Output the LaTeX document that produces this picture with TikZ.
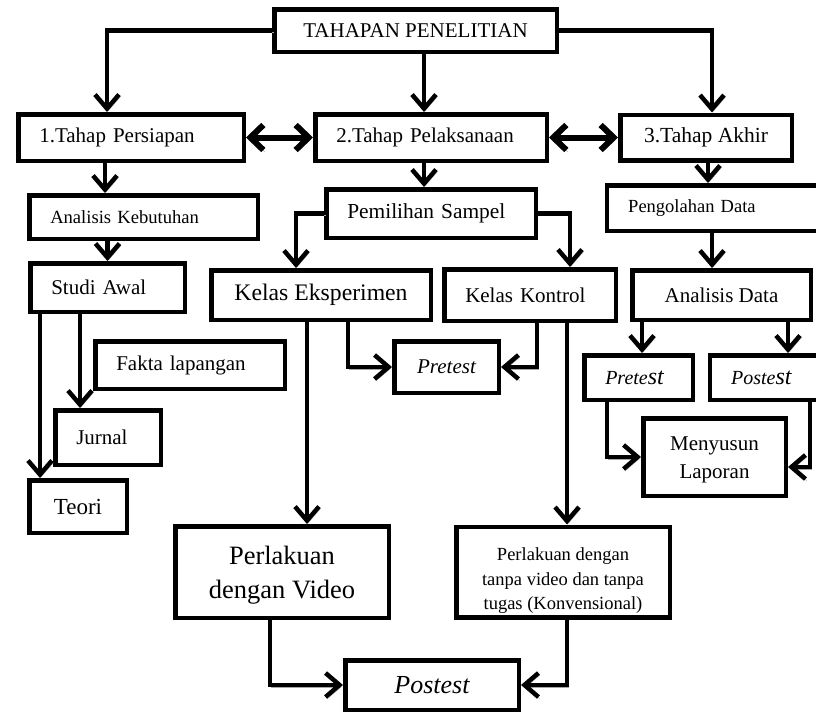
\documentclass[tikz,border=0pt]{standalone}
\usepackage{fontspec}
\setmainfont{Liberation Serif}
\usetikzlibrary{arrows.meta}
\newcommand{\uk}[2]{\fontsize{#1}{#2}\selectfont}

\tikzset{
  kotak/.style={draw, line width=4.5pt, inner sep=0pt, align=center},
  kiri/.style={align=left, inner xsep=21pt},
  bayang/.style={preaction={draw=black!35, transform canvas={shift={(1.5pt,-2pt)}}}},
  panah/.style={line width=4.5pt, -{Straight Barb[length=14pt,width=24pt]}, bayang},
  duapanah/.style={line width=6pt, {Straight Barb[length=13pt,width=25pt]}-{Straight Barb[length=13pt,width=25pt]}, bayang},
}

\begin{document}
\begin{tikzpicture}[x=1pt, y=-1pt]
  \useasboundingbox (0,0) rectangle (816,715);

  % baris atas
  \node[kotak, minimum width=282.5pt, minimum height=42.5pt, font=\uk{21}{26}] (tahapan) at (415.5,30.5) {TAHAPAN PENELITIAN};
  \node[kotak, kiri, text width=183.5pt, minimum height=46.5pt, font=\uk{21}{26}] (persiapan) at (131,137.5) {1.Tahap Persiapan};
  \node[kotak, kiri, text width=189.5pt, minimum height=46.5pt, font=\uk{21}{26}] (pelaksanaan) at (431,137.5) {2.Tahap Pelaksanaan};
  \node[kotak, minimum width=171.5pt, minimum height=45.5pt, font=\uk{21.5}{26}] (akhir) at (706,137.5) {3.Tahap Akhir};

  % tahap persiapan
  \node[kotak, kiri, text width=186.5pt, minimum height=43.5pt, font=\uk{18.6}{24}] (kebutuhan) at (143.5,217) {Analisis Kebutuhan};
  \node[kotak, kiri, text width=112.5pt, minimum height=48.5pt, font=\uk{21}{26}] (studi) at (107.5,287.5) {Studi Awal};
  \node[kotak, kiri, text width=147.5pt, minimum height=47.5pt, font=\uk{21}{26}] (fakta) at (190,365) {Fakta lapangan};
  \node[kotak, kiri, text width=63.5pt, minimum height=54.5pt, font=\uk{21}{26}] (jurnal) at (108,437.5) {Jurnal};
  \node[kotak, minimum width=97.5pt, minimum height=52.5pt, font=\uk{23}{28}] (teori) at (78,506.5) {Teori};

  % tahap pelaksanaan
  \node[kotak, kiri, text width=167.5pt, minimum height=48.5pt, font=\uk{21.4}{26}] (pemilihan) at (431,213.5) {Pemilihan Sampel};
  \node[kotak, minimum width=219.5pt, minimum height=49.5pt, font=\uk{23.7}{28}] (eksperimen) at (321,295) {Kelas Eksperimen};
  \node[kotak, kiri, text width=129.5pt, minimum height=51.5pt, font=\uk{21}{26}] (kontrol) at (530,295) {Kelas Kontrol};
  \node[kotak, minimum width=104.5pt, minimum height=51.5pt, font=\uk{21}{26}\itshape] (pretesta) at (446.5,367) {Pretest};
  \node[kotak, minimum width=213.5pt, minimum height=91.5pt, font=\uk{26.5}{34}] (video) at (282,572) {\rule{0pt}{24pt}Perlakuan\\dengan Video};
  \node[kotak, minimum width=213.5pt, minimum height=90.5pt, font=\uk{18.5}{24.5}] (konv) at (563,572) {\rule{0pt}{30pt}Perlakuan dengan\\tanpa video dan tanpa\\tugas (Konvensional)};
  \node[kotak, minimum width=173.5pt, minimum height=49.5pt, font=\uk{26}{30}\itshape] (postest) at (432,685) {Postest};

  % tahap akhir
  \node[kotak, kiri, text width=172.75pt, minimum height=45.5pt, font=\uk{18.5}{24}] (pengolahan) at (714.6,208) {Pengolahan Data};
  \node[kotak, minimum width=178.5pt, minimum height=49.5pt, font=\uk{21}{26}] (analisis) at (721.5,295) {Analisis Data};
  \node[kotak, kiri, text width=66.5pt, minimum height=44.5pt, font=\uk{20}{26}\itshape] (pretestb) at (638.5,377.5) {Prete{\uk{24}{26}st}};
  \node[kotak, kiri, text width=69.75pt, minimum height=44.5pt, font=\uk{20}{26}\itshape] (postestb) at (766,377.5) {Poste{\uk{24}{26}st}};
  \node[kotak, minimum width=142.5pt, minimum height=77.5pt, font=\uk{21}{28}] (menyusun) at (714.5,457) {\rule{0pt}{20pt}Menyusun\\Laporan};

  % panah
  \draw[panah] (tahapan.west) -| ([xshift=-24pt]persiapan.north);
  \draw[panah] ([xshift=8.5pt]tahapan.south) -- ([xshift=8.5pt]tahapan.south |- pelaksanaan.north);
  \draw[panah] (tahapan.east) -| ([xshift=6pt]akhir.north);
  \draw[duapanah] (persiapan.east) -- (pelaksanaan.west);
  \draw[duapanah] (pelaksanaan.east) -- (akhir.west);

  \draw[panah] ([xshift=-26pt]persiapan.south) -- ([xshift=-26pt]persiapan.south |- kebutuhan.north);
  \draw[panah] (kebutuhan.south -| studi.north) -- (studi.north);
  \draw[panah] ([xshift=-38pt]teori.north |- studi.south) -- ([xshift=-38pt]teori.north);
  \draw[panah] ([xshift=-28pt]jurnal.north |- studi.south) -- ([xshift=-28pt]jurnal.north);

  \draw[panah] ([xshift=-7pt]pelaksanaan.south) -- ([xshift=-7pt]pelaksanaan.south |- pemilihan.north);
  \draw[panah] (pemilihan.west) -| ([xshift=-25pt]eksperimen.north);
  \draw[panah] (pemilihan.east) -| ([xshift=40pt]kontrol.north);
  \draw[panah] ([xshift=-14pt]eksperimen.south) -- ([xshift=-14pt]eksperimen.south |- video.north);
  \draw[panah] ([xshift=27pt]eksperimen.south) |- (pretesta.west);
  \draw[panah] ([xshift=7pt]kontrol.south) |- (pretesta.east);
  \draw[panah] ([xshift=37pt]kontrol.south) -- ([xshift=37pt]kontrol.south |- konv.north);
  \draw[panah] ([xshift=-12pt]video.south) |- (postest.west);
  \draw[panah] ([xshift=4pt]konv.south) |- (postest.east);

  \draw[panah] ([xshift=2pt]akhir.south) -- ([xshift=2pt]akhir.south |- pengolahan.north);
  \draw[panah] ([xshift=-2.6pt]pengolahan.south) -- ([xshift=-2.6pt]pengolahan.south |- analisis.north);
  \draw[panah] ([xshift=-79.5pt]analisis.south) -- ([xshift=-79.5pt]analisis.south |- pretestb.north);
  \draw[panah] ([xshift=66.5pt]analisis.south) -- ([xshift=66.5pt]analisis.south |- postestb.north);
  \draw[panah] ([xshift=-31.5pt]pretestb.south) |- (menyusun.west);
  \draw[panah] ([xshift=44pt]postestb.south) |- ([yshift=-10pt]menyusun.east);
\end{tikzpicture}
\end{document}
